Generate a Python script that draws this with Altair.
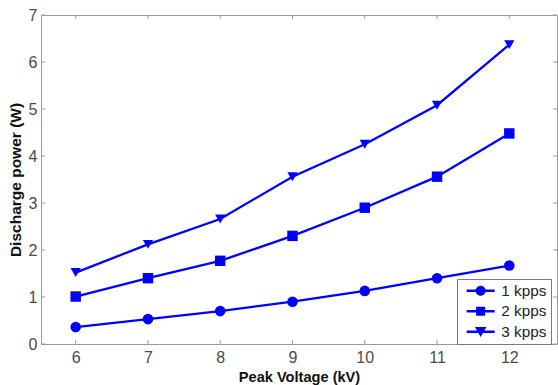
import altair as alt
import pandas as pd

# Peak voltage (kV) and discharge power (W) for each pulse repetition rate
voltage = [6, 7, 8, 9, 10, 11, 12]
power_1kpps = [0.36, 0.53, 0.70, 0.90, 1.13, 1.40, 1.67]
power_2kpps = [1.01, 1.40, 1.77, 2.30, 2.90, 3.56, 4.48]
power_3kpps = [1.52, 2.12, 2.66, 3.56, 4.25, 5.08, 6.37]
series = ["1 kpps", "2 kpps", "3 kpps"]
y_ticks = [0, 1, 2, 3, 4, 5, 6, 7]

rows = []
for name, values in zip(series, [power_1kpps, power_2kpps, power_3kpps]):
    for v, p in zip(voltage, values):
        rows.append({"voltage": v, "power": p, "series": name})
df = pd.DataFrame(rows)
x_tick_df = pd.DataFrame({"voltage": voltage})
y_tick_df = pd.DataFrame({"power": y_ticks})

W, H = 516, 329
TICK = 4
BLUE = "#0000ff"
AXIS_GREY = "#9a9a9a"
FONT = "Liberation Sans"

x_scale = alt.Scale(domain=[5.52, 12.66], nice=False, zero=False)
y_scale = alt.Scale(domain=[0, 7], nice=False, zero=False)

common_axis = dict(
    domain=False,
    ticks=False,
    grid=False,
    format="d",
    labelFont=FONT,
    labelFontSize=16,
    labelColor="#4a4a4a",
    titleFont=FONT,
    titleFontWeight="bold",
    titleColor="#111111",
)

lines = alt.Chart(df).mark_line(color=BLUE, strokeWidth=2.3).encode(
    x=alt.X(
        "voltage:Q",
        scale=x_scale,
        axis=alt.Axis(values=voltage, title="Peak Voltage (kV)", titleFontSize=14.6,
                      labelPadding=5, titlePadding=4, **common_axis),
    ),
    y=alt.Y(
        "power:Q",
        scale=y_scale,
        axis=alt.Axis(values=y_ticks, title="Discharge power (W)", titleFontSize=15.5,
                      labelPadding=4, titlePadding=5, **common_axis),
    ),
    detail="series:N",
)

points = alt.Chart(df).mark_point(filled=True, color=BLUE, opacity=1).encode(
    x=alt.X("voltage:Q", scale=x_scale),
    y=alt.Y("power:Q", scale=y_scale),
    shape=alt.Shape(
        "series:N",
        scale=alt.Scale(domain=series, range=["circle", "square", "triangle-down"]),
        legend=None,
    ),
    size=alt.Size(
        "series:N",
        scale=alt.Scale(domain=series, range=[112, 106, 165]),
        legend=None,
    ),
)

# Inward tick marks on all four sides of the frame
tick_style = dict(color=AXIS_GREY, strokeWidth=1)
ticks_bottom = alt.Chart(x_tick_df).mark_rule(**tick_style).encode(
    x=alt.X("voltage:Q", scale=x_scale), y=alt.value(H), y2=alt.value(H - TICK))
ticks_top = alt.Chart(x_tick_df).mark_rule(**tick_style).encode(
    x=alt.X("voltage:Q", scale=x_scale), y=alt.value(0), y2=alt.value(TICK))
ticks_left = alt.Chart(y_tick_df).mark_rule(**tick_style).encode(
    y=alt.Y("power:Q", scale=y_scale), x=alt.value(0), x2=alt.value(TICK))
ticks_right = alt.Chart(y_tick_df).mark_rule(**tick_style).encode(
    y=alt.Y("power:Q", scale=y_scale), x=alt.value(W), x2=alt.value(W - TICK))

# Legend symbols: a line sample with the marker in its middle
seg = "M-0.4,-0.25H1.9V0.25H-0.4Z M2.9,-0.25H5.2V0.25H2.9Z "
legend_shapes = [
    seg + "M3.4,0A1,1 0 1,1 1.4,0A1,1 0 1,1 3.4,0Z",
    seg + "M1.5,-0.9H3.3V0.9H1.5Z",
    seg + "M1.25,-0.95L3.55,-0.95L2.4,1.05Z",
]

legend_layer = alt.Chart(df).mark_point(filled=True, color=BLUE, opacity=0, size=100).encode(
    x=alt.X("voltage:Q", scale=x_scale),
    y=alt.Y("power:Q", scale=y_scale),
    shape=alt.Shape(
        "series:N",
        scale=alt.Scale(domain=series, range=legend_shapes),
        legend=alt.Legend(
            title=None,
            orient="none",
            legendX=416,
            legendY=264,
            padding=4,
            fillColor="white",
            strokeColor="#7a7a7a",
            symbolSize=100,
            symbolOpacity=1,
            symbolFillColor=BLUE,
            symbolStrokeWidth=0,
            labelFont=FONT,
            labelFontSize=15.3,
            labelColor="#222222",
            labelOffset=25,
            labelExpr="datum.label + '   '",
            rowPadding=4.5,
        ),
    ),
)

chart = (
    alt.layer(ticks_bottom, ticks_top, ticks_left, ticks_right,
              lines, points, legend_layer)
    .resolve_scale(shape="independent", size="independent")
    .properties(
        width=W,
        height=H,
        padding={"left": 41, "top": 15, "right": 1, "bottom": 41},
        autosize=alt.AutoSizeParams(type="none"),
        background="white",
    )
    .configure_view(stroke=AXIS_GREY, strokeWidth=1)
)

chart.save("out.html", embed_options={"renderer": "svg", "actions": False})
